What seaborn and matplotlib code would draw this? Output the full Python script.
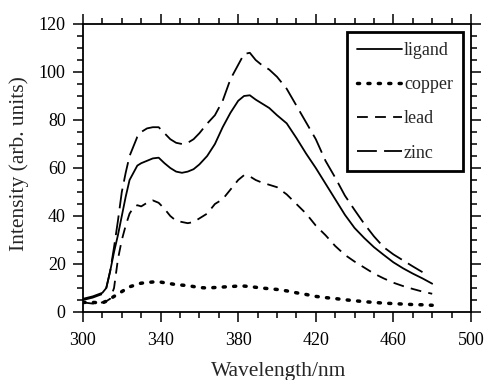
import numpy as np
import pandas as pd
import matplotlib
matplotlib.use("Agg")
import matplotlib.pyplot as plt
import seaborn as sns
from matplotlib.ticker import MultipleLocator

sns.set_style("ticks")
plt.rcParams['font.family'] = ['Liberation Serif', 'DejaVu Serif']
plt.rcParams['mathtext.fontset'] = 'stix'

wavelength = [300, 305, 310, 312, 314, 316, 318, 320, 322, 324, 326, 328, 330, 333, 336, 339,
              342, 345, 348, 351, 354, 357, 360, 364, 368, 372, 376, 380, 383, 386, 389, 392,
              396, 400, 405, 410, 415, 420, 425, 430, 435, 440, 445, 450, 455, 460, 465, 470,
              475, 480]

ligand = [5.5, 6.5, 8, 10, 17, 25, 32, 40, 48, 55, 58, 61, 62, 63, 64, 64.3,
          62, 60, 58.5, 58, 58.5, 59.5, 61.5, 65, 70, 77, 83, 88, 90, 90.3, 88.5, 87,
          85, 82, 78.6, 72.5, 66, 60, 53.5, 47, 40.5, 35, 30.8, 27, 23.8, 20.7, 18.2, 16,
          14, 11.8]

copper = [4, 4, 3.8, 4.5, 5.5, 6.5, 7.5, 8.5, 9.5, 10.5, 11, 11.7, 12, 12.3, 12.5, 12.6,
          12.2, 11.8, 11.4, 11.2, 11, 10.6, 10.2, 10, 10.2, 10.4, 10.6, 10.8, 10.8, 10.6, 10.3, 10,
          9.7, 9.4, 8.8, 8, 7.3, 6.5, 6, 5.6, 5.1, 4.7, 4.3, 4, 3.7, 3.5, 3.3, 3.1,
          3, 2.8]

lead = [4, 3.5, 4, 4.5, 5.5, 10, 22, 30, 36, 41, 43.5, 44.5, 44, 45.5, 46.5, 45.5,
        43, 40, 38, 37.5, 37, 37.5, 39, 41, 45, 47, 51, 55, 57, 56.5, 55, 54,
        53, 52, 49, 45, 41, 36, 32, 27.5, 23.8, 21, 18.5, 16, 14, 12.2, 10.8, 9.6,
        8.5, 7.6]

zinc = [5, 6, 7.5, 10, 17, 27, 38, 50, 58, 65, 69, 73, 75, 76.5, 77, 77,
        74.5, 72, 70.5, 70, 70.5, 72, 74.5, 78.5, 82, 88, 97, 103, 107.5, 108, 105, 103,
        101, 98, 93, 86, 79, 72, 63, 56, 48.5, 42.5, 36.7, 31.5, 27, 24, 21.5, 19,
        16.6, np.nan]

series_names = ["ligand", "copper", "lead", "zinc"]
series_values = [ligand, copper, lead, zinc]

x_ticks = [300, 340, 380, 420, 460, 500]
y_ticks = [0, 20, 40, 60, 80, 100, 120]

styles = {
    "ligand": dict(linestyle="-", linewidth=1.3),
    "copper": dict(linestyle=(0, (0.6, 2.4)), linewidth=2.5, dash_capstyle="round"),
    "lead": dict(linestyle=(0, (6, 4)), linewidth=1.3),
    "zinc": dict(linestyle=(0, (11, 4)), linewidth=1.3),
}

fig = plt.figure(figsize=(4.84, 3.80), dpi=100)
ax = fig.add_axes([83/484, 1 - 312/380, (471-83)/484, (312-24)/380])

for name, vals in zip(series_names, series_values):
    df = pd.DataFrame({"Wavelength": wavelength, "Intensity": vals})
    sns.lineplot(data=df, x="Wavelength", y="Intensity", ax=ax, color="black",
                 label=name, **styles[name])

ax.set_xlim(300, 500)
ax.set_ylim(0, 120)
ax.set_xticks(x_ticks)
ax.set_yticks(y_ticks)
ax.xaxis.set_minor_locator(MultipleLocator(10))
ax.yaxis.set_minor_locator(MultipleLocator(5))
ax.tick_params(which="both", direction="out", top=True, right=True,
               labeltop=False, labelright=False, colors="black", width=1.1)
ax.tick_params(which="major", length=7, labelsize=13)
ax.tick_params(axis="x", which="major", pad=7.5)
ax.tick_params(axis="y", which="major", pad=5.5)
ax.tick_params(which="minor", length=4)
for sp in ax.spines.values():
    sp.set_visible(True)
    sp.set_linewidth(1.3)
    sp.set_color("black")

ax.set_xlabel("Wavelength/nm", fontsize=15.5)
ax.set_ylabel("Intensity (arb. units)", fontsize=15.5)
ax.xaxis.set_label_coords(0.504, -0.172)
ax.yaxis.set_label_coords(-0.14, 0.515)

leg = ax.legend(loc="upper right", frameon=True, fancybox=False, fontsize=13,
                handlelength=2.5, handletextpad=0.1, labelspacing=0.95,
                borderpad=0.55, borderaxespad=0.45, edgecolor="black")
leg.get_frame().set_linewidth(2.0)
leg.get_frame().set_alpha(1)

fig.savefig("out.png", dpi=100)
